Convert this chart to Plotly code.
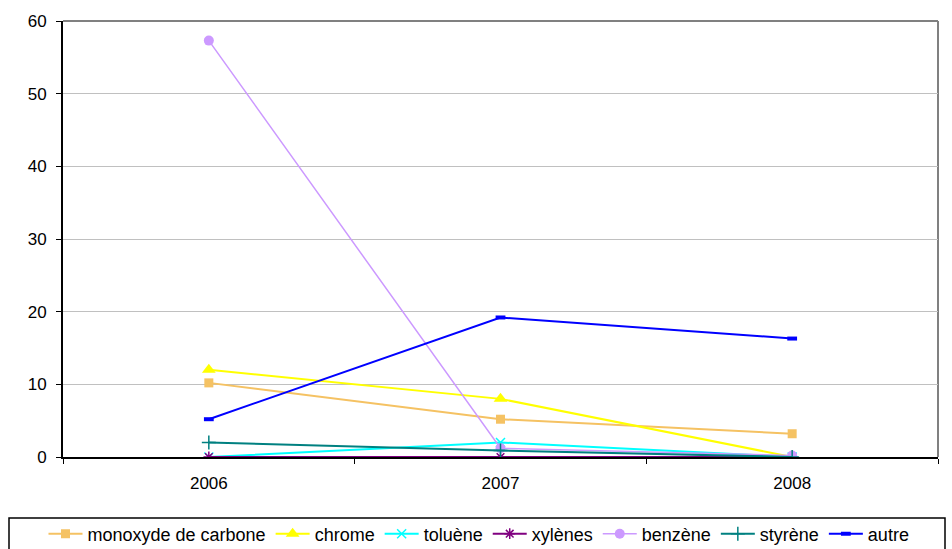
import plotly.graph_objects as go

years = ["2006", "2007", "2008"]
monoxyde = [10.2, 5.2, 3.2]
chrome = [12.0, 8.0, 0.0]
toluene = [0.0, 2.0, 0.0]
xylenes = [0.0, 0.0, 0.0]
benzene = [57.3, 1.2, 0.2]
styrene = [2.0, 0.9, 0.0]
autre = [5.2, 19.2, 16.3]

series = [
    ("monoxyde de carbone", monoxyde, "#F5C263", 2, dict(symbol="square", size=9)),
    ("chrome", chrome, "#FFFF00", 2, dict(symbol="triangle-up", size=12)),
    ("toluène", toluene, "#00FFFF", 2, dict(symbol="x-thin-open", size=9, line=dict(width=1.5, color="#00FFFF"))),
    ("xylènes", xylenes, "#800080", 2, dict(symbol="asterisk-open", size=9, line=dict(width=1.5, color="#800080"))),
    ("benzène", benzene, "#CC99FF", 1.5, dict(symbol="circle", size=10)),
    ("styrène", styrene, "#008080", 2, dict(symbol="cross-thin-open", size=10, line=dict(width=1.5, color="#008080"))),
    ("autre", autre, "#0000FF", 2, dict(symbol="line-ew-open", size=7, line=dict(width=4, color="#0000FF"))),
]

fig = go.Figure()
for name, vals, color, lw, mk in series:
    fig.add_trace(go.Scatter(
        x=years, y=vals, name=name, mode="lines+markers",
        line=dict(color=color, width=lw),
        marker=dict(color=color, **mk),
    ))

L, T, R, B = 63, 21, 14, 92
W, H = 952, 549
pw, ph = W - L - R, H - T - B

fig.update_layout(
    width=W, height=H,
    margin=dict(l=L, r=R, t=T, b=B, autoexpand=False),
    paper_bgcolor="white", plot_bgcolor="white",
    font=dict(family="Liberation Sans, Arial, sans-serif", size=17, color="black"),
    showlegend=True,
    legend=dict(
        orientation="h", x=479 / W, xanchor="center", xref="container",
        y=1 - 534 / H, yanchor="middle", yref="container",
        font=dict(size=18), itemwidth=34,
        bgcolor="rgba(0,0,0,0)",
    ),
    xaxis=dict(
        type="category", range=[-0.5, 2.5], tickson="boundaries",
        ticks="outside", ticklen=5, tickcolor="black",
        showline=True, linecolor="black", linewidth=2,
        showgrid=False, zeroline=False, fixedrange=True,
        ticklabelstandoff=10,
    ),
    yaxis=dict(
        range=[0, 60], dtick=10, ticks="outside", ticklen=5, tickcolor="black",
        showline=True, linecolor="black", linewidth=2,
        showgrid=True, gridcolor="#C0C0C0", gridwidth=1,
        zeroline=False, fixedrange=True,
        ticklabelstandoff=6,
    ),
    shapes=[
        # plot-area frame (top and right edges in grey)
        dict(type="line", xref="paper", yref="paper", x0=0, x1=1, y0=1, y1=1,
             line=dict(color="#808080", width=2), layer="below"),
        dict(type="line", xref="paper", yref="paper", x0=1, x1=1, y0=0, y1=1,
             line=dict(color="#808080", width=2), layer="below"),
        # legend frame
        dict(type="rect", xref="paper", yref="paper",
             x0=(9 - L) / pw, x1=(945 - L) / pw,
             y0=-(H - T) / ph - 0.05, y1=-(518 - T - ph) / ph,
             line=dict(color="black", width=1.5), fillcolor="rgba(0,0,0,0)"),
    ],
)

fig.write_html("out.html")
